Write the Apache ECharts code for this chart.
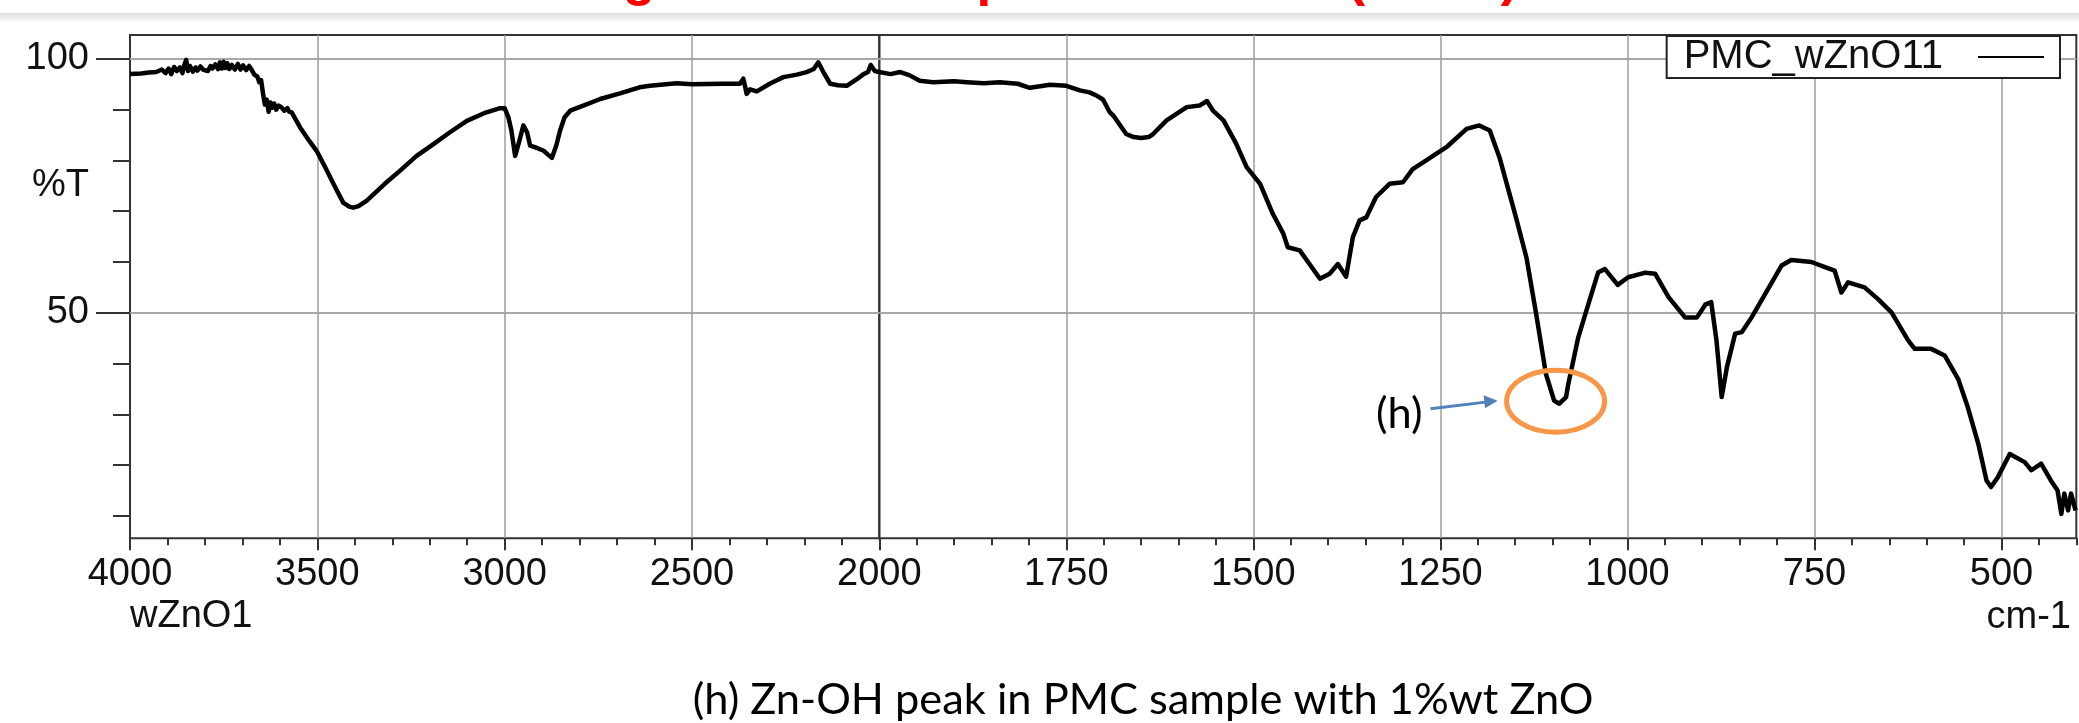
<!DOCTYPE html>
<html>
<head>
<meta charset="utf-8">
<script src="https://cdn.jsdelivr.net/npm/echarts@6/dist/echarts.min.js"></script>
<style>
html,body{margin:0;padding:0;background:#ffffff;}
#chart{width:2079px;height:723px;}
</style>
</head>
<body>
<div id="chart"></div>
<script>
// ---------------- DATA ----------------
const seriesName = 'PMC_wZnO11';

// 4000 - 2000 cm-1 segment (compressed scale)
const highWavenumber = [4000,3970,3950,3930,3915,3905,3897,3890,3882,3875,3867,3860,3855,3850,3845,3840,3832,3825,3820,3812,3805,3800,3792,3785,3780,3772,3765,3760,3755,3750,3745,3740,3735,3728,3720,3712,3705,3698,3690,3682,3675,3668,3660,3655,3650,3645,3640,3635,3630,3625,3620,3615,3610,3603,3595,3588,3580,3575,3568,3546,3520,3502,3480,3457,3431,3415,3404,3390,3368,3320,3279,3235,3190,3145,3101,3055,3012,3000,2990,2982,2972,2962,2950,2940,2932,2915,2896,2885,2874,2862,2852,2840,2825,2790,2745,2692,2640,2612,2541,2500,2420,2372,2363,2358,2354,2345,2327,2290,2256,2220,2194,2175,2163,2150,2131,2110,2087,2060,2042,2030,2023,2012,2000];
const highTransmittance = [97.0,97.1,97.3,97.4,97.9,97.2,98.1,97.0,98.4,97.6,98.3,97.2,98.8,99.8,97.6,98.6,97.5,98.3,97.7,98.5,97.9,98.2,97.6,98.6,98.1,98.9,98.0,99.3,98.1,99.4,98.2,99.1,98.0,98.8,97.9,99.0,97.9,98.7,97.8,98.6,97.8,96.9,96.5,95.4,95.8,93.2,91.0,92.0,89.6,91.4,90.4,91.2,90.0,90.8,90.4,89.8,90.3,89.6,89.4,86.5,83.7,81.9,78.8,75.4,71.7,70.9,70.7,71.0,72.1,75.4,78.0,80.9,83.2,85.6,87.8,89.3,90.3,90.3,88.5,85.9,80.9,83.5,86.9,85.5,82.9,82.5,81.9,81.2,80.5,83.0,85.9,88.5,89.8,90.8,92.1,93.2,94.4,94.7,95.2,95.0,95.1,95.1,96.1,94.5,93.1,94.0,93.6,95.2,96.4,96.9,97.4,98.0,99.3,97.5,95.1,94.8,94.7,96.0,97.0,97.4,98.8,97.6,97.4];

// 2000 - 400 cm-1 segment (expanded scale)
const lowWavenumber = [2000,1985,1972,1960,1946,1928,1900,1883,1860,1839,1815,1799,1785,1772,1750,1732,1719,1710,1701,1692,1687,1670,1660,1650,1640,1634,1616,1589,1572,1562,1554,1540,1523,1509,1491,1474,1460,1454,1438,1425,1411,1398,1387,1376,1367,1358,1349,1336,1318,1300,1287,1269,1242,1215,1198,1184,1171,1149,1135,1122,1109,1098,1091,1082,1079,1066,1052,1039,1030,1013,999,976,963,945,923,907,896,888,881,874,867,856,847,834,816,794,781,754,736,723,714,705,683,665,647,625,616,594,576,558,545,531,520,514,505,489,469,460,447,434,425,420,416,411,407,401];
const lowTransmittance = [97.4,97.0,97.4,96.8,95.7,95.4,95.6,95.4,95.2,95.4,95.1,94.3,94.6,94.9,94.7,93.8,93.4,92.8,92.0,89.5,88.8,85.2,84.6,84.4,84.6,85.2,87.9,90.5,90.8,91.7,89.8,87.9,83.3,78.7,75.4,69.5,65.6,62.9,62.3,59.6,56.7,57.7,59.6,57.1,64.9,68.2,68.8,72.8,75.4,75.7,78.3,80.0,82.6,86.2,86.9,85.9,80.6,68.8,60.9,49.8,38.0,32.7,32.1,33.4,36.0,45.0,51.8,58.0,58.6,55.5,57.0,57.9,57.7,53.1,49.1,49.1,51.6,52.1,44.6,33.4,39.3,45.9,46.2,49.1,53.7,59.3,60.4,60.0,59.0,58.3,54.0,56.0,55.0,52.7,50.1,44.6,42.9,42.9,41.6,37.0,31.4,24.2,17.0,15.7,17.6,22.2,20.6,19.0,20.3,17.0,15.0,10.4,14.4,11.1,14.4,11.1];

// tick labels
const highTickLabels = [4000,3500,3000,2500,2000];
const lowTickLabels = [1750,1500,1250,1000,750,500];
const yLabelValues = [50,100];
const yTickValues = [10,20,30,40,50,60,70,80,90,100];

// texts
const titleText = 'Figure 8: FTIR spectra of PMC (1%wt)';
const captionText = '(h) Zn-OH peak in PMC sample with 1%wt ZnO';
const markText = '(h)';
const yName = '%T';
const sampleName = 'wZnO1';
const unitName = 'cm-1';
const markedPeak = [1096, 32.6]; // wavenumber, %T of the circled Zn-OH peak

// ---------------- STYLE ----------------
const AX_FONT = 'Liberation Sans';
const TXT = '#111111';
const FRAME = '#333333';
const GRIDC = '#9c9c9c';
const Y_MIN = 5.6, Y_MAX = 104.7;

const highData = highWavenumber.map((w, i) => [w, highTransmittance[i]]);
const lowData = lowWavenumber.map((w, i) => [w, lowTransmittance[i]]);

const tickStyle = {color: FRAME, width: 2};
const plainNumber = v => String(v);
const labelStyle = {fontSize: 38, fontFamily: AX_FONT, color: TXT, formatter: plainNumber};

const chart = echarts.init(document.getElementById('chart'), null, {renderer: 'canvas'});

const option = {
  animation: false,
  backgroundColor: '#ffffff',
  grid: [
    {left: 130, top: 35, width: 749.3, height: 503.3, show: true, borderColor: FRAME, borderWidth: 2, backgroundColor: 'transparent'},
    {left: 879.3, top: 35, width: 1197, height: 503.3, show: true, borderColor: FRAME, borderWidth: 2, backgroundColor: 'transparent'}
  ],
  legend: {
    data: [seriesName],
    right: 19, top: 36,
    orient: 'horizontal',
    align: 'right',
    icon: 'rect',
    itemWidth: 66, itemHeight: 2,
    padding: [1, 16, 1, 17],
    borderColor: '#222222', borderWidth: 2,
    backgroundColor: '#ffffff',
    selectedMode: false,
    textStyle: {fontSize: 40, fontFamily: AX_FONT, color: TXT, padding: [0, 30, 0, 0]}
  },
  xAxis: [
    {
      gridIndex: 0, type: 'value', min: 2000, max: 4000, inverse: true, interval: 500, position: 'bottom',
      axisLine: {show: false},
      axisTick: {show: true, length: 12, lineStyle: tickStyle},
      axisLabel: Object.assign({show: true, margin: 17, customValues: highTickLabels}, labelStyle),
      splitLine: {show: true, showMinLine: false, showMaxLine: false, lineStyle: {color: GRIDC, width: 1.5}}
    },
    {
      gridIndex: 1, type: 'value', min: 400, max: 2000, inverse: true, position: 'bottom',
      axisLine: {show: false},
      axisTick: {show: true, length: 12, lineStyle: tickStyle, customValues: lowTickLabels},
      axisLabel: Object.assign({show: true, margin: 17, customValues: lowTickLabels}, labelStyle),
      splitLine: {show: true, lineStyle: {color: GRIDC, width: 1.5}}
    },
    {
      gridIndex: 0, type: 'value', min: 2000, max: 4000, inverse: true, interval: 100, position: 'bottom',
      axisLine: {show: false},
      axisTick: {show: true, length: 7, lineStyle: tickStyle},
      axisLabel: {show: false}, splitLine: {show: false}
    },
    {
      gridIndex: 1, type: 'value', min: 400, max: 2000, inverse: true, interval: 50, position: 'bottom',
      axisLine: {show: false},
      axisTick: {show: true, length: 7, lineStyle: tickStyle},
      axisLabel: {show: false}, splitLine: {show: false}
    }
  ],
  yAxis: [
    {
      gridIndex: 0, type: 'value', min: Y_MIN, max: Y_MAX, position: 'left',
      axisLine: {show: false},
      axisTick: {show: true, length: 34, lineStyle: tickStyle, customValues: yLabelValues},
      axisLabel: Object.assign({show: true, margin: 41, customValues: yLabelValues}, labelStyle),
      splitLine: {show: true, lineStyle: {color: '#a8a8a8', width: 2}}
    },
    {
      gridIndex: 0, type: 'value', min: Y_MIN, max: Y_MAX, position: 'left',
      axisLine: {show: false},
      axisTick: {show: true, length: 17, lineStyle: tickStyle, customValues: yTickValues},
      axisLabel: {show: false}, splitLine: {show: false}
    },
    {
      gridIndex: 1, type: 'value', min: Y_MIN, max: Y_MAX, position: 'right',
      axisLine: {show: false},
      axisTick: {show: false, customValues: yLabelValues},
      axisLabel: {show: false},
      splitLine: {show: true, lineStyle: {color: '#a8a8a8', width: 2}}
    }
  ],
  series: [
    {
      name: seriesName, type: 'line', xAxisIndex: 0, yAxisIndex: 0, data: highData,
      showSymbol: false, symbol: 'none', smooth: false, clip: true,
      lineStyle: {color: '#000000', width: 4.5, join: 'round'}, itemStyle: {color: '#000000'}, z: 5
    },
    {
      name: seriesName, type: 'line', xAxisIndex: 1, yAxisIndex: 2, data: lowData,
      showSymbol: false, symbol: 'none', smooth: false, clip: true,
      lineStyle: {color: '#000000', width: 4.5, join: 'round'}, itemStyle: {color: '#000000'}, z: 5
    }
  ]
};

chart.setOption(option);

// ---------------- annotations & texts ----------------
function fitFontSize(text, family, weight, targetWidth) {
  const ctx = document.createElement('canvas').getContext('2d');
  ctx.font = weight + ' 100px "' + family + '"';
  return 100 * targetWidth / ctx.measureText(text).width;
}
const captionSize = fitFontSize(captionText, 'Lato', 'normal', 901);

const c = chart.convertToPixel({xAxisIndex: 1, yAxisIndex: 2}, markedPeak);
const yNameY = chart.convertToPixel({yAxisIndex: 0}, 75);

chart.setOption({
  graphic: [
    {type: 'rect', left: 0, top: 13, shape: {width: 2079, height: 10}, silent: true, z: 1,
     style: {fill: new echarts.graphic.LinearGradient(0, 0, 0, 1, [{offset: 0, color: '#dddddd'}, {offset: 1, color: '#ffffff'}])}},
    {type: 'text', x: 576, y: -20, silent: true, z: 1,
     style: {text: titleText, fontSize: 53, fontWeight: 'bold', fontFamily: AX_FONT, fill: '#ff0000', align: 'left', verticalAlign: 'middle'}},
    {type: 'text', x: 89, y: yNameY, silent: true,
     style: {text: yName, fontSize: 38, fontFamily: AX_FONT, fill: TXT, align: 'right', verticalAlign: 'middle'}},
    {type: 'text', x: 130, y: 617, silent: true,
     style: {text: sampleName, fontSize: 38, fontFamily: AX_FONT, fill: TXT, align: 'left', verticalAlign: 'middle'}},
    {type: 'text', x: 2071, y: 618, silent: true,
     style: {text: unitName, fontSize: 38, fontFamily: AX_FONT, fill: TXT, align: 'right', verticalAlign: 'middle'}},
    {type: 'text', x: 1143, y: 713 - captionSize * 0.30, silent: true,
     style: {text: captionText, fontSize: captionSize, fontFamily: 'Lato', fill: '#000000', align: 'center', verticalAlign: 'middle'}},
    {type: 'ellipse', silent: true, z: 20,
     shape: {cx: c[0], cy: c[1], rx: 49, ry: 31},
     style: {fill: 'none', stroke: '#F79646', lineWidth: 5}},
    {type: 'line', silent: true, z: 20,
     shape: {x1: c[0] - 125, y1: c[1] + 7.5, x2: c[0] - 68, y2: c[1] + 0.7},
     style: {stroke: '#4F81BD', lineWidth: 3}},
    {type: 'polygon', silent: true, z: 20,
     shape: {points: [[c[0] - 58, c[1] - 0.5], [c[0] - 72, c[1] - 6], [c[0] - 70.5, c[1] + 7]]},
     style: {fill: '#4F81BD'}},
    {type: 'text', x: c[0] - 133, y: c[1] + 26 - captionSize * 0.30, silent: true, z: 20,
     style: {text: markText, fontSize: captionSize, fontFamily: 'Lato', fill: '#000000', align: 'right', verticalAlign: 'middle'}}
  ]
});
</script>
</body>
</html>
